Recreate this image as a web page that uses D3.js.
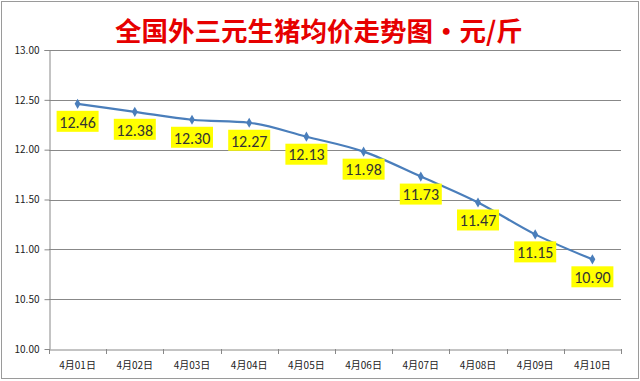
<!DOCTYPE html>
<html><head><meta charset="utf-8">
<script src="https://cdn.jsdelivr.net/npm/d3@7"></script>
<style>body{margin:0;background:#fff}svg{display:block}</style>
</head><body>
<script>
const categories = ["4月01日","4月02日","4月03日","4月04日","4月05日","4月06日","4月07日","4月08日","4月09日","4月10日"];
const prices = [12.46,12.38,12.30,12.27,12.13,11.98,11.73,11.47,11.15,10.90];
const yTicks = [10.00,10.50,11.00,11.50,12.00,12.50,13.00];
const title = "全国外三元生猪均价走势图・元/斤";

const W=640,H=381;
const svg=d3.select("body").append("svg").attr("width",W).attr("height",H);
svg.append("rect").attr("x",1.5).attr("y",1.5).attr("width",W-3).attr("height",H-4).attr("fill","#fff").attr("stroke","#9a9a9a");

const m={l:49,r:621,t:50,b:349};
const x=d3.scaleBand().domain(categories).range([m.l,m.r]);
const y=d3.scaleLinear().domain([10,13]).range([m.b,m.t]);

// grid
svg.append("g").selectAll("line").data(yTicks.slice(1)).join("line")
 .attr("x1",m.l).attr("x2",m.r).attr("y1",d=>Math.round(y(d))+0.5).attr("y2",d=>Math.round(y(d))+0.5)
 .attr("stroke","#888").attr("stroke-width",1);

const yAxis=svg.append("g").attr("transform",`translate(${m.l+0.5},0)`)
 .call(d3.axisLeft(y).tickValues(yTicks).tickFormat(d3.format(".2f")).tickSize(5).tickPadding(5));
const xAxis=svg.append("g").attr("transform",`translate(0,${m.b+0.5})`)
 .call(d3.axisBottom(x).tickSize(0).tickPadding(12));
[yAxis,xAxis].forEach(g=>{
 g.select(".domain").attr("stroke","#888");
 g.selectAll(".tick line").attr("stroke","#888");
 g.selectAll("text").attr("fill","#222").style("font-family","'Noto Sans CJK SC','DejaVu Sans',sans-serif").style("font-size","10px");
});
yAxis.selectAll(".tick").filter(d=>d===10).select("line").remove();
// x tick marks at band boundaries
svg.append("g").selectAll("line").data(d3.range(categories.length+1)).join("line")
 .attr("x1",i=>Math.round(m.l+i*x.step())+0.5).attr("x2",i=>Math.round(m.l+i*x.step())+0.5)
 .attr("y1",m.b).attr("y2",m.b+5).attr("stroke","#888");

const cx=d=>x(d)+x.bandwidth()/2;
const line=d3.line().x((d,i)=>cx(categories[i])).y(d=>y(d)).curve(d3.curveMonotoneX);
svg.append("path").datum(prices).attr("d",line).attr("fill","none").attr("stroke","#4a7ebb").attr("stroke-width",2.2);

svg.append("g").selectAll("path").data(prices).join("path")
 .attr("d",d3.symbol().type(d3.symbolDiamond).size(30))
 .attr("transform",(d,i)=>`translate(${cx(categories[i])},${y(d)})`).attr("fill","#4a7ebb");

const lg=svg.append("g").selectAll("g").data(prices).join("g")
 .attr("transform",(d,i)=>`translate(${cx(categories[i])},${y(d)+18})`);
lg.append("rect").attr("x",-21).attr("y",-11).attr("width",42).attr("height",21).attr("fill","#ffff00");
lg.append("text").text(d=>d.toFixed(2)).attr("text-anchor","middle").attr("dy","0.36em")
 .style("font-family","Carlito,'Liberation Sans',sans-serif").style("font-size","16px").attr("fill","#333");

svg.append("text").attr("x",319).attr("y",41).attr("text-anchor","middle").text(title)
 .style("font-family","'Noto Sans CJK SC',sans-serif").style("font-weight","bold").style("font-size","26.5px").attr("fill","#e60000");
</script>
</body></html>
